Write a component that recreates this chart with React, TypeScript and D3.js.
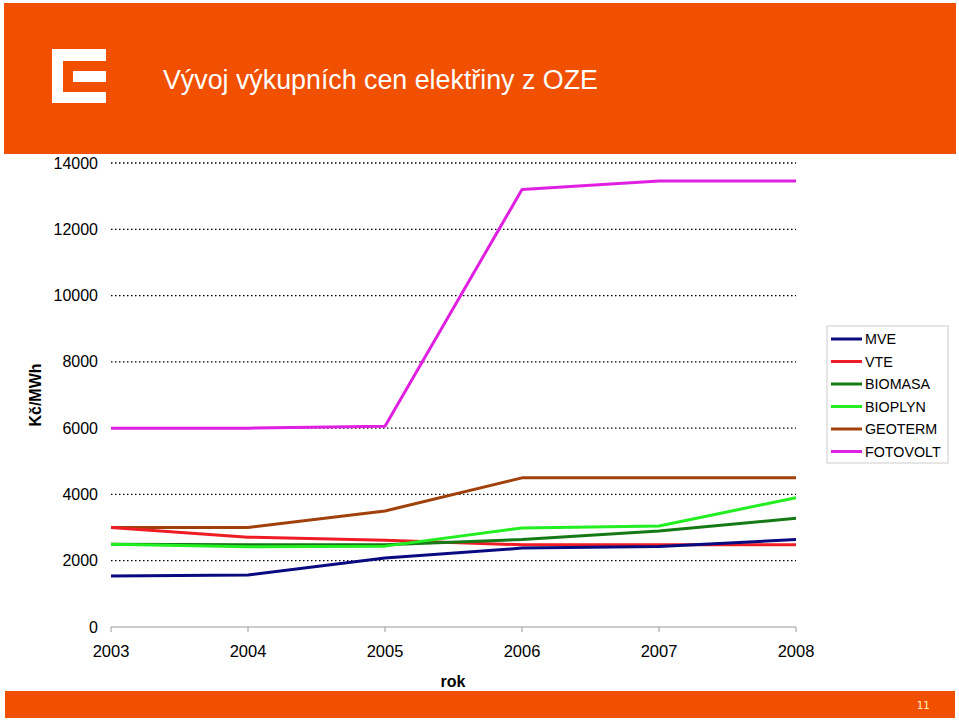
import React from "react";
import * as d3 from "d3";

const years = [2003, 2004, 2005, 2006, 2007, 2008];
const yTicks = [0, 2000, 4000, 6000, 8000, 10000, 12000, 14000];
const seriesNames = ["MVE", "VTE", "BIOMASA", "BIOPLYN", "GEOTERM", "FOTOVOLT"];
const seriesColors = ["#0a0a80", "#ee1c24", "#157a15", "#22ee22", "#a0400a", "#e020e0"];
const mve = [1540, 1570, 2080, 2380, 2430, 2640];
const vte = [3000, 2710, 2620, 2480, 2480, 2480];
const biomasa = [2500, 2480, 2480, 2640, 2900, 3280];
const bioplyn = [2500, 2420, 2440, 2990, 3050, 3900];
const geoterm = [3000, 3000, 3500, 4500, 4500, 4500];
const fotovolt = [6000, 6000, 6060, 13200, 13460, 13460];
const seriesValues = [mve, vte, biomasa, bioplyn, geoterm, fotovolt];

const ORANGE = "#f05000";

export default function App() {
  const x = d3.scalePoint<number>().domain(years).range([111, 796]);
  const y = d3.scaleLinear().domain([0, 14000]).range([627, 163]);
  const line = d3
    .line<number>()
    .x((_, i) => x(years[i]) as number)
    .y((d) => y(d));
  const font = "'Liberation Sans', Arial, sans-serif";
  const drawOrder = [5, 4, 1, 2, 3, 0];
  const legendY = (i: number) => 339 + i * 22.5;

  return (
    <svg
      width={959}
      height={721}
      style={{ position: "absolute", left: 0, top: 0, background: "#fff" }}
      fontFamily={font}
    >
      <rect x={0} y={0} width={959} height={721} fill="#fff" />
      {/* header */}
      <rect x={4} y={3} width={952} height={151} fill={ORANGE} />
      <g fill="#fff">
        <rect x={52} y={49} width={54} height={12} />
        <rect x={52} y={49} width={11} height={54} />
        <rect x={52} y={92} width={54} height={11} />
        <rect x={73} y={71} width={33} height={11} />
      </g>
      <text x={163} y={89} fill="#fff" fontSize={26.8}>
        Vývoj výkupních cen elektřiny z OZE
      </text>

      {/* gridlines */}
      {yTicks
        .filter((t) => t > 0)
        .map((t) => (
          <line
            key={t}
            x1={111}
            x2={796}
            y1={y(t)}
            y2={y(t)}
            stroke="#000"
            strokeWidth={1.3}
            strokeDasharray="1.5 2.5"
          />
        ))}

      {/* x axis */}
      <line x1={111} x2={796} y1={y(0)} y2={y(0)} stroke="#999" strokeWidth={1} />
      {years.map((yr) => (
        <g key={yr}>
          <line
            x1={x(yr)}
            x2={x(yr)}
            y1={y(0)}
            y2={y(0) + 5}
            stroke="#999"
            strokeWidth={1}
          />
          <text x={x(yr)} y={657} textAnchor="middle" fontSize={16.5} fill="#000">
            {yr}
          </text>
        </g>
      ))}
      {yTicks.map((t) => (
        <text
          key={t}
          x={98}
          y={y(t) + 5.5}
          textAnchor="end"
          fontSize={16}
          fill="#000"
        >
          {t}
        </text>
      ))}
      <text x={453} y={687} textAnchor="middle" fontSize={16} fontWeight="bold">
        rok
      </text>
      <text
        transform={`translate(41,395) rotate(-90)`}
        textAnchor="middle"
        fontSize={16}
        fontWeight="bold"
      >
        Kč/MWh
      </text>

      {/* series */}
      {drawOrder.map((i) => (
        <path
          key={seriesNames[i]}
          d={line(seriesValues[i]) as string}
          fill="none"
          stroke={seriesColors[i]}
          strokeWidth={3}
          strokeLinejoin="round"
        />
      ))}

      {/* legend */}
      <rect x={827} y={326} width={121} height={137} fill="#fff" stroke="#ccc" strokeWidth={1} />
      {seriesNames.map((n, i) => (
        <g key={n}>
          <line
            x1={831}
            x2={862}
            y1={legendY(i)}
            y2={legendY(i)}
            stroke={seriesColors[i]}
            strokeWidth={3}
          />
          <text x={865} y={legendY(i) + 5} fontSize={14.3} fill="#000">
            {n}
          </text>
        </g>
      ))}

      {/* footer */}
      <rect x={5} y={691} width={950} height={27} fill={ORANGE} />
      <text x={923} y={709} textAnchor="middle" fontSize={11} fill="#ffe8c0" fontFamily="'DejaVu Sans Mono', monospace">
        11
      </text>
    </svg>
  );
}
